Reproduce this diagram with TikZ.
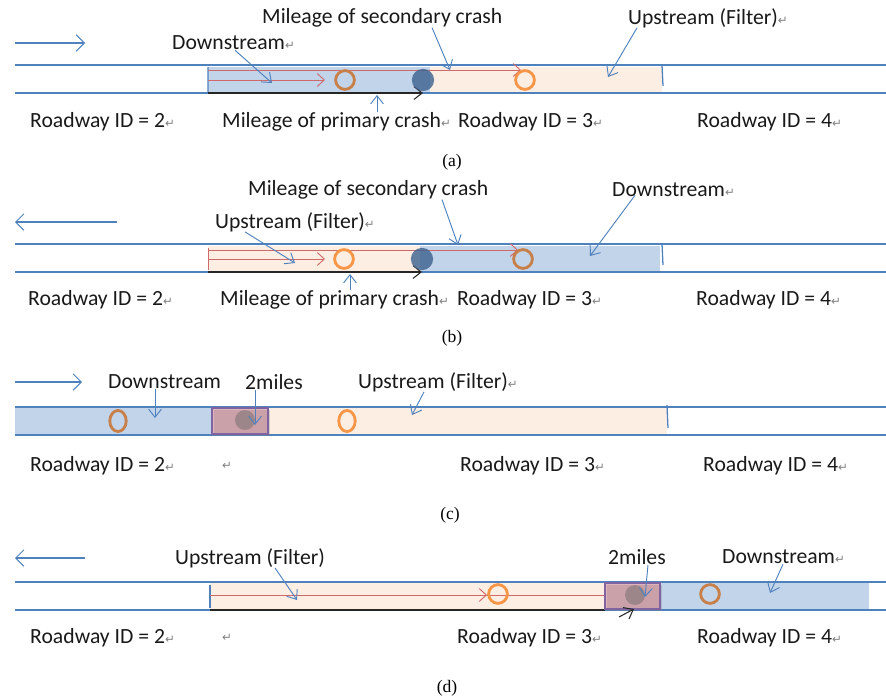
\documentclass[tikz,border=0pt]{standalone}
\usepackage{fontspec}
\setmainfont{Carlito}
\newfontfamily\capfont{Liberation Serif}
\newfontfamily\symfont{DejaVu Sans}
\usetikzlibrary{arrows.meta, shadows, shapes.geometric}
\definecolor{roadblue}{HTML}{4F81BD}
\definecolor{dsfill}{HTML}{C2D4EA}
\definecolor{upfill}{HTML}{FDEEE4}
\definecolor{ringorange}{HTML}{F79646}
\definecolor{ringbrown}{HTML}{C8804A}
\definecolor{trackred}{HTML}{D06A6A}
\definecolor{boxpurple}{HTML}{8064A2}
\newcommand{\ret}{{\color{gray}\symfont\fontsize{10}{10}\selectfont ↵}}
\tikzset{
  label/.style={font=\fontsize{18.5}{20}\selectfont, text=black!90, inner sep=0pt, anchor=west},
  caption/.style={font=\capfont\fontsize{15}{16}\selectfont, inner sep=0pt},
  road/.style={roadblue, line width=1.1pt},
  heading/.style={roadblue, line width=0.9pt, -{Straight Barb[length=7pt, width=14pt]}},
  callout/.style={roadblue, line width=0.8pt, -{Straight Barb[length=7pt, width=11pt]}},
  track/.style={trackred, line width=0.8pt},
  trackarrow/.style={track, -{Straight Barb[length=6pt, width=11pt]}},
  mileage/.style={black!85, line width=0.9pt, -{Straight Barb[length=7pt, width=11pt]}},
  ring/.style={circle, draw=ringorange, line width=2.4pt, minimum size=16pt, inner sep=0pt},
  oval/.style={ellipse, draw=ringorange, line width=2.4pt, minimum width=14pt, minimum height=18pt, inner sep=0pt},
  crash/.style={circle, fill=roadblue!75!black, fill opacity=0.8, minimum size=19pt, inner sep=0pt},
  second/.style={circle, fill=black!60, fill opacity=0.45, minimum size=17pt, inner sep=0pt},
  zone/.style={draw=boxpurple, line width=1.2pt, fill=trackred!75!boxpurple, fill opacity=0.5,
    drop shadow={opacity=0.3, shadow xshift=2pt, shadow yshift=-2pt}},
}

\begin{document}
\begin{tikzpicture}[x=0.03cm, y=-0.03cm]
	\useasboundingbox (0,0) rectangle (886,700);

	% (a) travel to the right
	\draw[heading] (15,43) -- (85,43);
	\fill[dsfill] (208,67) rectangle (430,93);
	\fill[upfill] (430,67) rectangle (662,93);
	\draw[road] (15,65) -- (886,65) (15,93) -- (886,93);
	\draw[road] (208,67) -- (208,92) (662,65) -- (663,86);
	\draw[trackarrow] (208,70) -- (521,70);
	\draw[trackarrow] (208,80) -- (325,80);
	\draw[mileage] (208,93) -- (423,93);
	\node[ring, draw=ringbrown] (a1) at (345,80) {};
	\node[ring] (a2) at (525,80) {};
	\node[crash] (ap) at (423,80) {};
	\node[label] (asec) at (262,18) {Mileage of secondary crash};
	\node[label] (aup) at (628,18) {Upstream (Filter)\ret};
	\node[label] (adown) at (172,43) {Downstream\ret};
	\node[label] (aprim) at (222,122) {Mileage of primary crash\ret};
	\node[label] (ar2) at (30,122) {Roadway ID = 2\ret};
	\node[label] (ar3) at (458,122) {Roadway ID = 3\ret};
	\node[label] (ar4) at (697,122) {Roadway ID = 4\ret};
	\node[caption] (acap) at (452,162) {(a)};
	\coordinate (asecT) at (450,70);
	\coordinate (aupT) at (608,77);
	\coordinate (adownT) at (272,83);
	\coordinate (aprimT) at (377,95);
	\draw[callout] (asec.south -| 432,0) -- (asecT);
	\draw[callout] (aup.south -| 637,0) -- (aupT);
	\draw[callout] (adown.south -| 235,0) -- (adownT);
	\draw[callout] (aprim.north -| 377,0) -- (aprimT);

	% (b) travel to the left
	\draw[heading] (117,222) -- (15,222);
	\fill[upfill] (208,246) rectangle (420,272);
	\fill[dsfill] (420,246) rectangle (660,272);
	\draw[road] (15,244) -- (886,244) (15,272) -- (886,272);
	\draw[road] (662,244) -- (663,265);
	\draw[track] (208,248) -- (208,270);
	\draw[trackarrow] (208,250) -- (518,250);
	\draw[trackarrow] (208,259) -- (325,259);
	\draw[mileage] (208,272) -- (422,272);
	\node[ring] (b1) at (344,259) {};
	\node[ring, draw=ringbrown] (b2) at (523,259) {};
	\node[crash] (bp) at (422,259) {};
	\node[label] (bsec) at (248,190) {Mileage of secondary crash};
	\node[label] (bup) at (215,222) {Upstream (Filter)\ret};
	\node[label] (bdown) at (612,190) {Downstream\ret};
	\node[label] (bprim) at (220,300) {Mileage of primary crash\ret};
	\node[label] (br2) at (28,300) {Roadway ID = 2\ret};
	\node[label] (br3) at (457,300) {Roadway ID = 3\ret};
	\node[label] (br4) at (696,300) {Roadway ID = 4\ret};
	\node[caption] (bcap) at (452,338) {(b)};
	\coordinate (bsecT) at (458,245);
	\coordinate (bupT) at (295,263);
	\coordinate (bdownT) at (590,256);
	\coordinate (bprimT) at (350,274);
	\draw[callout] (bsec.south -| 442,0) -- (bsecT);
	\draw[callout] (bup.south -| 245,0) -- (bupT);
	\draw[callout] (bdown.south -| 635,0) ++(0,-2) -- (bdownT);
	\draw[callout] (bprim.north -| 350,0) -- (bprimT);

	% (c) 2 miles zone, to the right
	\draw[heading] (15,382) -- (82,382);
	\fill[dsfill] (15,408) rectangle (212,434);
	\fill[upfill] (268,408) rectangle (667,434);
	\draw[road] (15,407) -- (886,407) (15,435) -- (886,435);
	\draw[road] (667,405) -- (668,428);
	\draw[zone] (212,408) rectangle (268,434);
	\node[oval, draw=ringbrown] (c1) at (118,421) {};
	\node[oval] (c2) at (347,421) {};
	\node[second] (cs) at (245,420) {};
	\node[label] (cdown) at (108,382) {Downstream};
	\node[label] (cmiles) at (245,382) {2miles};
	\node[label] (cup) at (358,382) {Upstream (Filter)\ret};
	\node[label] (cr2) at (30,466) {Roadway ID = 2\ret};
	\node[label] (cret) at (222,466) {\ret};
	\node[label] (cr3) at (460,466) {Roadway ID = 3\ret};
	\node[label] (cr4) at (703,466) {Roadway ID = 4\ret};
	\node[caption] (ccap) at (450,515) {(c)};
	\coordinate (cdownT) at (155,418);
	\coordinate (cmilesT) at (255,425);
	\coordinate (cupT) at (412,415);
	\draw[callout] (cdown.south -| 155,0) -- (cdownT);
	\draw[callout] (cmiles.south -| 255,0) -- (cmilesT);
	\draw[callout] (cup.south -| 424,0) -- (cupT);

	% (d) 2 miles zone, to the left
	\draw[heading] (85,558) -- (15,558);
	\fill[upfill] (210,583) rectangle (605,609);
	\fill[dsfill] (660,583) rectangle (869,609);
	\draw[road] (15,582) -- (886,582) (15,610) -- (886,610);
	\draw[road] (210,585) -- (210,608);
	\draw[track] (210,595) -- (605,595);
	\draw[trackarrow] (210,595) -- (487,595);
	\draw[black!85, line width=0.9pt] (210,610) -- (605,610);
	\draw[zone] (605,583) rectangle (660,609);
	\draw[mileage] (619,617) -- (634,609);
	\node[ring] (d1) at (498,594) {};
	\node[ring, draw=ringbrown] (d2) at (710,594) {};
	\node[second] (ds) at (635,595) {};
	\node[label] (dup) at (175,558) {Upstream (Filter)};
	\node[label] (dmiles) at (608,557) {2miles};
	\node[label] (ddown) at (722,557) {Downstream\ret};
	\node[label] (dr2) at (30,638) {Roadway ID = 2\ret};
	\node[label] (dret) at (222,638) {\ret};
	\node[label] (dr3) at (457,638) {Roadway ID = 3\ret};
	\node[label] (dr4) at (697,638) {Roadway ID = 4\ret};
	\node[caption] (dcap) at (447,688) {(d)};
	\coordinate (dupT) at (297,600);
	\coordinate (dmilesT) at (645,597);
	\coordinate (ddownT) at (770,593);
	\draw[callout] (dup.south -| 275,0) -- (dupT);
	\draw[callout] (dmiles.south -| 648,0) -- (dmilesT);
	\draw[callout] (ddown.south -| 783,0) -- (ddownT);

\end{tikzpicture}
\end{document}
